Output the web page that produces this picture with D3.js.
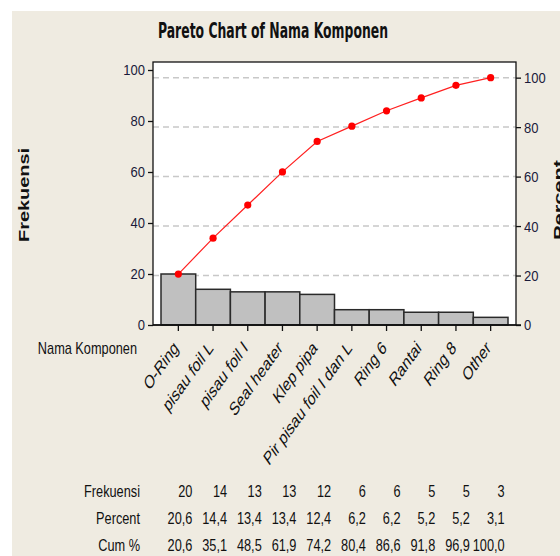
<!DOCTYPE html>
<html>
<head>
<meta charset="utf-8">
<script src="https://cdn.jsdelivr.net/npm/d3@7"></script>
<style>
  body { margin: 0; background: #ffffff; }
  svg { display: block; }
  .narrow { font-family: "Liberation Sans", Arial, sans-serif; }
</style>
</head>
<body>
<svg id="chart" width="560" height="556"></svg>
<script>
// data
const categories = ["O-Ring", "pisau foil L", "pisau foil I", "Seal heater", "Klep pipa",
    "Pir pisau foil I dan L", "Ring 6", "Rantai", "Ring 8", "Other"];
const frekuensi = [20, 14, 13, 13, 12, 6, 6, 5, 5, 3];
const percent = [20.6, 14.4, 13.4, 13.4, 12.4, 6.2, 6.2, 5.2, 5.2, 3.1];
const cumPercent = [20.6, 35.1, 48.5, 61.9, 74.2, 80.4, 86.6, 91.8, 96.9, 100.0];
const leftTicks = [0, 20, 40, 60, 80, 100];
const rightTicks = [0, 20, 40, 60, 80, 100];
const tableRows = ["Frekuensi", "Percent", "Cum %"];

const svg = d3.select("#chart");
const total = d3.sum(frekuensi);

// squeeze text horizontally, the reference uses a narrow face
function narrowText(sel, sx) {
    sel.each(function() {
        const t = d3.select(this);
        const x0 = +t.attr("x") || 0, y0 = +t.attr("y") || 0;
        t.attr("x", 0).attr("y", 0)
            .attr("transform", `translate(${x0},${y0}) scale(${sx},1)`);
    });
}

// frame of the plot area
const plot = {left: 153, top: 62, right: 516, bottom: 325};

// beige panel
svg.append("rect").attr("x", 12).attr("y", 11).attr("width", 548).attr("height", 545)
    .attr("fill", "#efebe1");
svg.append("rect").attr("x", plot.left).attr("y", plot.top)
    .attr("width", plot.right - plot.left).attr("height", plot.bottom - plot.top)
    .attr("fill", "#ffffff");

const x = d3.scaleBand().domain(categories).range([161, 508]).padding(0);
const yL = d3.scaleLinear().domain([0, 100]).range([plot.bottom, 70]);
// percent axis: 100% lines up with the total count
const yR = d3.scaleLinear().domain([0, 100]).range([plot.bottom, yL(total)]);

// dashed grid at the percent ticks
svg.append("g").selectAll("line")
    .data(rightTicks.filter(d => d > 0)).join("line")
    .attr("x1", plot.left).attr("x2", plot.right)
    .attr("y1", d => yR(d)).attr("y2", d => yR(d))
    .attr("stroke", "#c8c8c8").attr("stroke-width", 1.5)
    .attr("stroke-dasharray", "6,4");

// bars
svg.append("g").selectAll("rect")
    .data(frekuensi).join("rect")
    .attr("x", (d, i) => x(categories[i]))
    .attr("y", d => yL(d))
    .attr("width", x.bandwidth())
    .attr("height", d => yL(0) - yL(d))
    .attr("fill", "#c0c0c0")
    .attr("stroke", "#2a2a2a").attr("stroke-width", 1.5);

// cumulative line
const line = d3.line()
    .x((d, i) => x(categories[i]) + x.bandwidth() / 2)
    .y(d => yR(d));
svg.append("path").datum(cumPercent)
    .attr("d", line).attr("fill", "none")
    .attr("stroke", "#ff2020").attr("stroke-width", 1.2);
svg.append("g").selectAll("circle")
    .data(cumPercent).join("circle")
    .attr("cx", (d, i) => x(categories[i]) + x.bandwidth() / 2)
    .attr("cy", d => yR(d))
    .attr("r", 3.6).attr("fill", "#ff0000");

// frame
svg.append("rect").attr("x", plot.left).attr("y", plot.top)
    .attr("width", plot.right - plot.left).attr("height", plot.bottom - plot.top)
    .attr("fill", "none").attr("stroke", "#111").attr("stroke-width", 1.3);

// axes
const leftAxis = svg.append("g").attr("transform", `translate(${plot.left},0)`)
    .call(d3.axisLeft(yL).tickValues(leftTicks).tickSize(5).tickPadding(3));
const rightAxis = svg.append("g").attr("transform", `translate(${plot.right},0)`)
    .call(d3.axisRight(yR).tickValues(rightTicks).tickSize(5).tickPadding(3));
const bottomAxis = svg.append("g").attr("transform", `translate(0,${plot.bottom})`)
    .call(d3.axisBottom(x).tickSize(6).tickFormat(""));

[leftAxis, rightAxis, bottomAxis].forEach(a => {
    a.select(".domain").remove();
    a.selectAll("line").attr("stroke", "#111").attr("stroke-width", 1.3);
    a.selectAll("text").attr("class", "narrow").attr("font-size", 15.5)
        .attr("fill", "#1a1a3a")
        .call(narrowText, 0.84);
});
svg.append("line").attr("x1", plot.left).attr("x2", plot.right + 5)
    .attr("y1", plot.bottom).attr("y2", plot.bottom)
    .attr("stroke", "#111").attr("stroke-width", 1.3);

// rotated category labels
svg.append("g").selectAll("text")
    .data(categories).join("text")
    .attr("transform", d => `translate(${x(d) + x.bandwidth() / 2 + 1},${plot.bottom + 24}) scale(1,1.4) rotate(-45)`)
    .attr("text-anchor", "end")
    .attr("font-family", "Liberation Sans, sans-serif")
    .attr("font-size", 13.5)
    .attr("fill", "#111")
    .text(d => d);

svg.append("text").attr("class", "narrow")
    .attr("x", 137).attr("y", 354).attr("text-anchor", "end")
    .attr("font-size", 17).attr("fill", "#111")
    .text("Nama Komponen")
    .call(narrowText, 0.75);

// title
svg.append("text")
    .attr("x", 273).attr("y", 38).attr("text-anchor", "middle")
    .attr("font-family", "DejaVu Sans Condensed, Liberation Sans, sans-serif")
    .attr("font-size", 21).attr("font-weight", "bold").attr("fill", "#111")
    .attr("textLength", 230).attr("lengthAdjust", "spacingAndGlyphs")
    .text("Pareto Chart of Nama Komponen");

// axis titles
svg.append("text")
    .attr("transform", "translate(29,195) rotate(-90)")
    .attr("text-anchor", "middle")
    .attr("font-family", "Liberation Sans, sans-serif")
    .attr("font-size", 14).attr("font-weight", "bold").attr("fill", "#111")
    .attr("textLength", 94).attr("lengthAdjust", "spacingAndGlyphs")
    .text("Frekuensi");
svg.append("text")
    .attr("transform", "translate(564,200) rotate(-90)")
    .attr("text-anchor", "middle")
    .attr("font-family", "Liberation Sans, sans-serif")
    .attr("font-size", 14).attr("font-weight", "bold").attr("fill", "#111")
    .attr("textLength", 80).attr("lengthAdjust", "spacingAndGlyphs")
    .text("Percent");

// table under the chart
const fmt = v => d3.format(".1f")(v).replace(".", ",");
const rowValues = [frekuensi.map(String), percent.map(fmt), cumPercent.map(fmt)];
const rowY = d3.scalePoint().domain(tableRows).range([497, 551]);

tableRows.forEach((r, j) => {
    const g = svg.append("g").attr("class", "narrow").attr("font-size", 17).attr("fill", "#111");
    g.append("text").attr("x", 140).attr("y", rowY(r)).attr("text-anchor", "end").text(r);
    g.selectAll("text.val")
        .data(rowValues[j]).join("text").attr("class", "val")
        .attr("x", (d, i) => x(categories[i]) + x.bandwidth() / 2 + 14)
        .attr("y", rowY(r))
        .attr("text-anchor", "end")
        .text(d => d);
    g.selectAll("text").call(narrowText, 0.75);
});
</script>
</body>
</html>
